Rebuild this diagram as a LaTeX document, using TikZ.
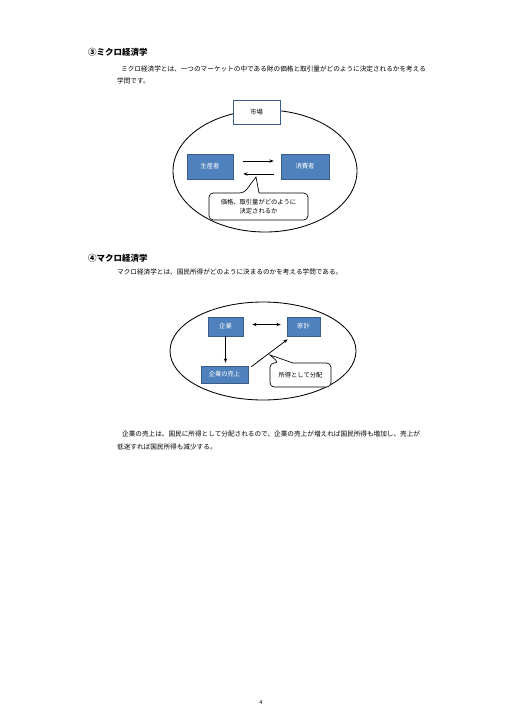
\documentclass[tikz,border=0pt]{standalone}
\usepackage{fontspec}
\setmainfont{Noto Sans CJK JP}
\usetikzlibrary{arrows.meta,calc,shapes.geometric}
\definecolor{kbBlue}{HTML}{4F81BD}
\definecolor{kbEdge}{HTML}{385D8A}
\tikzset{
    kbTitle/.style={anchor=west, inner sep=0pt, font=\fontsize{10}{12}\selectfont\bfseries},
    kbText/.style={anchor=west, inner sep=0pt, font=\fontsize{7.8}{9}\selectfont},
    kbBox/.style={rectangle, draw=kbEdge, fill=kbBlue, line width=0.8pt, text=white,
        font=\fontsize{7.4}{9}\selectfont, inner sep=0pt},
    kbMarket/.style={rectangle, draw=kbEdge, fill=white, line width=1pt,
        font=\fontsize{7.4}{9}\selectfont, inner sep=0pt},
    kbOval/.style={draw=black, line width=1pt},
    kbCallout/.style={draw=black, fill=white, line width=0.8pt},
    kbArrow/.style={-{Stealth[length=5pt,width=4pt]}, line width=0.9pt},
    kbBoth/.style={{Stealth[length=5pt,width=4pt]}-{Stealth[length=5pt,width=4pt]}, line width=0.9pt}
}
\begin{document}
\begin{tikzpicture}[x=0.4134mm, y=-0.4134mm]
    \useasboundingbox (0,0) rectangle (508,720);

    % Section 3
    \node[kbTitle] (t3) at (88,52) {③ミクロ経済学};
    \node[kbText] (p3a) at (121,69) {ミクロ経済学とは、一つのマーケットの中である財の価格と取引量がどのように決定されるかを考える};
    \node[kbText] (p3b) at (117,81) {学問です。};

    \draw[kbOval] (265,171) ellipse [x radius=92, y radius=61];
    \node[kbMarket, minimum width=47*0.4134mm, minimum height=24*0.4134mm] (market) at (256.5,112) {市場};

    \node[kbBox, minimum width=46*0.4134mm, minimum height=25*0.4134mm] (prod) at (210,166.5) {生産者};
    \node[kbBox, minimum width=48*0.4134mm, minimum height=25*0.4134mm] (cons) at (305,166.5) {消費者};
    \draw[kbArrow] ($(prod.east)+(10,-5.5)$) -- ($(cons.west)+(-7,-5.5)$);
    \draw[kbArrow] ($(cons.west)+(-7,7.5)$) -- ($(prod.east)+(10,7.5)$);

    % callout 1
    \coordinate (tip1) at (256,177);
    \draw[kbCallout] (244,193) -- (tip1) -- (259,193) [rounded corners=5pt] -- (308,193) -- (308,220) -- (209,220) -- (209,193) -- cycle;
    \node[font=\fontsize{7.4}{10}\selectfont, align=center, inner sep=0pt] (note1) at (258.5,206.5) {価格、取引量がどのように\\決定されるか};

    % Section 4
    \node[kbTitle] (t4) at (88,258) {④マクロ経済学};
    \node[kbText] (p4) at (117,272) {マクロ経済学とは、国民所得がどのように決まるのかを考える学問である。};

    \draw[kbOval] (263,351) ellipse [x radius=93, y radius=49];
    \node[kbBox, minimum width=35*0.4134mm, minimum height=19*0.4134mm] (firm) at (225.5,326.5) {企業};
    \node[kbBox, minimum width=33*0.4134mm, minimum height=19*0.4134mm] (house) at (303.5,326.5) {家計};
    \node[kbBox, minimum width=47*0.4134mm, minimum height=17*0.4134mm] (sales) at (224.5,374.5) {企業の売上};
    \draw[kbBoth] ($(firm.east)+(9,-2)$) -- ($(house.west)+(-6,-2)$);
    \draw[kbArrow] (firm.south) -- ($(firm.south |- sales.north)+(0,-3)$);
    \draw[kbArrow] ($(sales.north east)+(3,1)$) -- ($(house.south west)+(1,3)$);

    % callout 2
    \coordinate (tip2) at (270,355);
    \draw[kbCallout] (279,363) -- (tip2) -- (293,363) [rounded corners=5pt] -- (331,363) -- (331,387) -- (270,387) -- (270,363) -- cycle;
    \node[font=\fontsize{7.4}{9}\selectfont, inner sep=0pt] (note2) at (300.5,375) {所得として分配};

    % Closing text
    \node[kbText] (p5a) at (122,434) {企業の売上は、国民に所得として分配されるので、企業の売上が増えれば国民所得も増加し、売上が};
    \node[kbText] (p5b) at (117,447) {低迷すれば国民所得も減少する。};

    \node[font=\fontsize{6.5}{8}\selectfont, inner sep=0pt] (page) at (261,703) {4};
\end{tikzpicture}
\end{document}
